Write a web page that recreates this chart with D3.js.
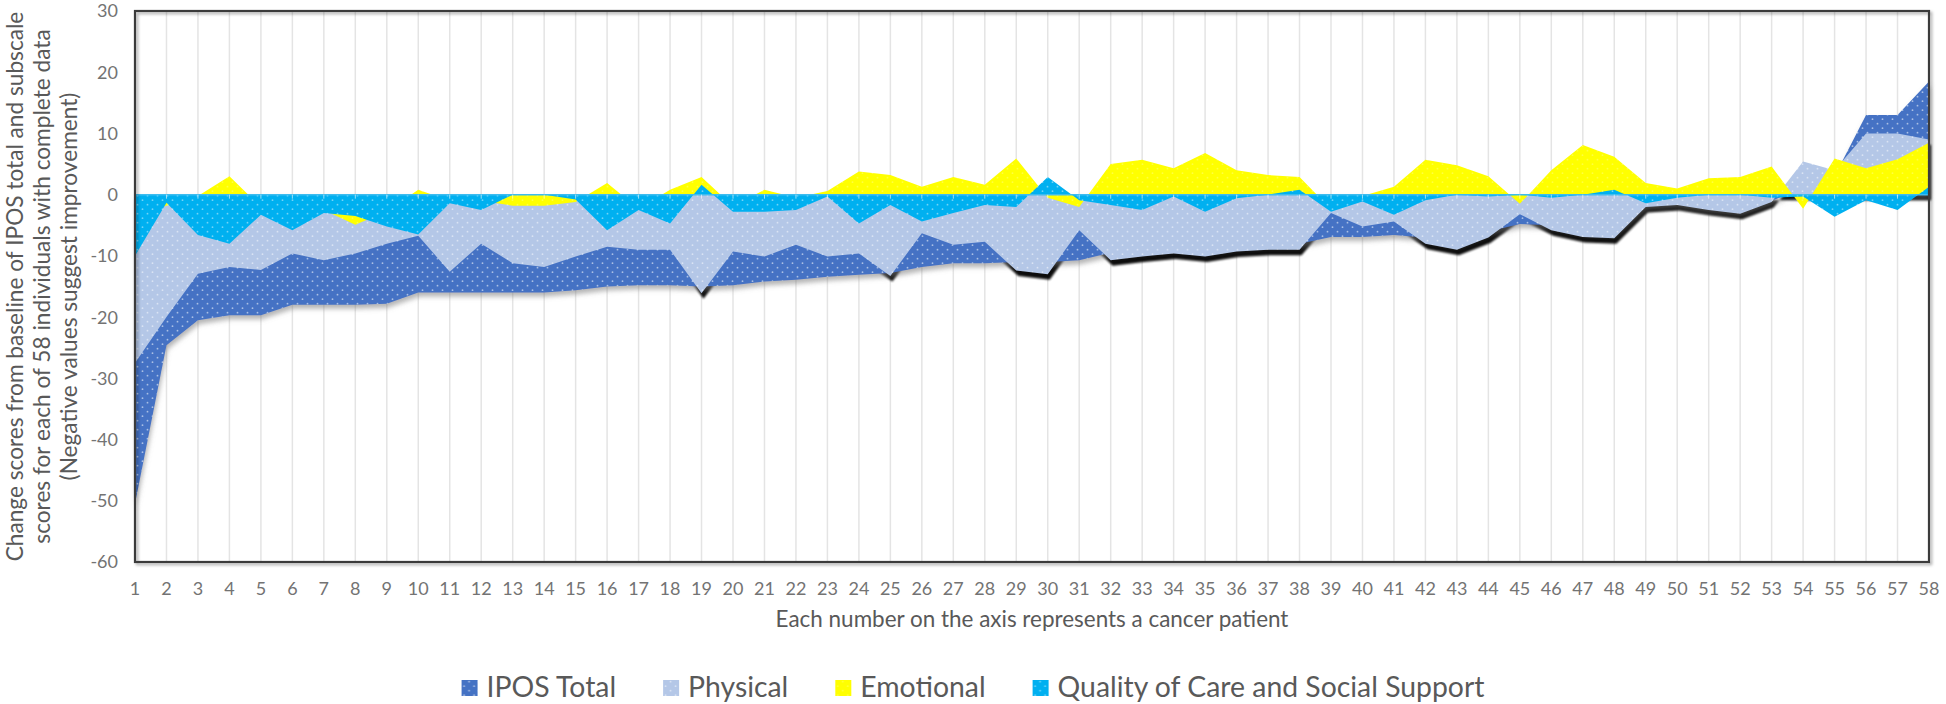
<!DOCTYPE html>
<html><head><meta charset="utf-8">
<script src="https://cdn.jsdelivr.net/npm/d3@7"></script>
<style>
body{margin:0;background:#fff;}
svg{display:block;font-family:Lato,"Open Sans",sans-serif;}
</style>
</head><body>
<svg id="chart" width="1946" height="704"></svg>
<script>
// ---------- DATA ----------
const patients = [1,2,3,4,5,6,7,8,9,10,11,12,13,14,15,16,17,18,19,20,21,22,23,24,25,26,27,28,29,30,
  31,32,33,34,35,36,37,38,39,40,41,42,43,44,45,46,47,48,49,50,51,52,53,54,55,56,57,58];
const iposTotal = [-50.5,-24.6,-20.5,-19.7,-19.7,-18,-18,-18,-17.8,-16,
  -16,-16,-16,-16,-15.6,-15,-14.8,-14.8,-15,-14.8,
  -14.2,-13.9,-13.4,-13.1,-12.8,-11.8,-11.2,-11.2,-11,-11,
  -10.7,-9.5,-9,-8.5,-9,-8.3,-8,-8,-6.9,-6.9,
  -6.6,-7,-8,-6,-4.8,-5,-6,-6.3,-1.8,-1.5,
  -2.3,-2.8,-1,1,3,13,13,18.5];
const physical = [-27.5,-20,-12.9,-11.8,-12.3,-9.6,-10.7,-9.6,-8,-6.7,
  -12.6,-8,-11.2,-11.8,-10.1,-8.5,-9,-9,-16.1,-9.3,
  -10.1,-8.2,-10.1,-9.6,-13.3,-6.3,-8.2,-7.7,-12.4,-13,
  -5.8,-10.7,-10.1,-9.6,-10.1,-9.3,-9,-9,-3,-5.2,
  -4.4,-8,-9,-7,-3.2,-5.8,-6.9,-7.1,-2,-1.7,
  -2.5,-3.1,-1.2,5.4,4,10,10,9];
const emotional = [-3,-1.8,-0.2,3,-2,-2,-2.5,-4.9,-2.7,0.8,
  -1,-1,-1.8,-1.8,-1.2,1.9,-2.3,0.8,2.9,-1.9,
  0.8,-0.5,0.6,3.8,3.2,1.3,2.9,1.6,5.9,-0.5,
  -2,5,5.7,4.3,6.8,4,3.2,2.9,-2.4,-0.2,
  1.3,5.7,4.8,3,-1.5,4,8.1,6.2,1.9,1,
  2.7,2.9,4.6,-2.3,5.9,4.3,5.8,8.5];
const qualityCare = [-10,-1.3,-6.6,-8,-3.3,-5.8,-3,-3.5,-5.2,-6.5,
  -1.4,-2.5,0,0,-0.8,-5.8,-2.5,-4.7,1.6,-2.8,
  -2.8,-2.5,-0.3,-4.7,-1.7,-4.4,-3,-1.7,-2,2.9,
  -0.9,-1.7,-2.5,-0.3,-2.8,-0.6,0,0.8,-2.8,-1.1,
  -3.3,-0.9,0,-0.3,0,-0.5,0,0.8,-1.4,-0.5,
  0,0,-0.5,-0.3,-3.6,-0.9,-2.5,1.3];
const yTicks = [30,20,10,0,-10,-20,-30,-40,-50,-60];
const seriesNames = ["IPOS Total","Physical","Emotional","Quality of Care and Social Support"];
const seriesColors = ["#4472C4","#B4C7E7","#FFFF00","#00B0F0"];
const yTitleLines = ["Change scores from baseline of IPOS total and subscale",
  "scores for each of 58 individuals with complete data",
  "(Negative values suggest improvement)"];
const xTitle = "Each number on the axis represents a cancer patient";

// ---------- LAYOUT ----------
const svg = d3.select("#chart");
const L = 135, R = 1929, T = 11, B = 562;
const x = d3.scalePoint().domain(patients).range([L, R]).padding(0);
const y = d3.scaleLinear().domain([-60, 30]).range([B, T]);

function fitWidth(sel, target) {
  const w = sel.node().getComputedTextLength();
  const fs = +sel.attr("font-size") * target / w;
  sel.attr("font-size", fs);
  return fs;
}

const defs = svg.append("defs");
function makePattern(id, color, op) {
  const p = defs.append("pattern").attr("id", id).attr("patternUnits", "userSpaceOnUse")
    .attr("width", 10).attr("height", 9);
  p.append("rect").attr("width", 10).attr("height", 9).attr("fill", color);
  if (op > 0) {
    p.append("circle").attr("cx", 2.5).attr("cy", 2.2).attr("r", 0.9).attr("fill", "#fff").attr("opacity", op);
    p.append("circle").attr("cx", 7.5).attr("cy", 6.7).attr("r", 0.9).attr("fill", "#fff").attr("opacity", op);
  }
}
makePattern("p0", seriesColors[0], 0.55);
makePattern("p1", seriesColors[1], 0.5);
makePattern("p2", seriesColors[2], 0.25);
makePattern("p3", seriesColors[3], 0.45);
const fills = ["url(#p0)","url(#p1)","url(#p2)","url(#p3)"];

const f1 = defs.append("filter").attr("id","softShadow").attr("x","-5%").attr("y","-5%").attr("width","110%").attr("height","120%");
f1.append("feDropShadow").attr("dx",1).attr("dy",4).attr("stdDeviation",2.5).attr("flood-color","#777").attr("flood-opacity",0.55);
const f2 = defs.append("filter").attr("id","blackBlur").attr("x","-5%").attr("y","-5%").attr("width","110%").attr("height","120%");
f2.append("feGaussianBlur").attr("stdDeviation",0.9);
const f3 = defs.append("filter").attr("id","boxShadow").attr("x","-5%").attr("y","-5%").attr("width","110%").attr("height","110%");
f3.append("feDropShadow").attr("dx",2).attr("dy",2).attr("stdDeviation",1.5).attr("flood-color","#000").attr("flood-opacity",0.35);

// plot background & gridlines
svg.append("rect").attr("x", L).attr("y", T).attr("width", R - L).attr("height", B - T).attr("fill", "#fff");
svg.append("g").selectAll("line").data(patients).join("line")
  .attr("x1", d => x(d)).attr("x2", d => x(d)).attr("y1", T).attr("y2", B)
  .attr("stroke", "#e4e4e4").attr("stroke-width", 1.5);

const area = vals => d3.area()
  .x((d, i) => x(patients[i])).y0(y(0)).y1(d => y(d))(vals);

// physical shadow (black), behind everything
svg.append("path").attr("d", area(physical)).attr("fill", "#000").attr("opacity", 0.95)
  .attr("transform", "translate(2,5.5)").attr("filter", "url(#blackBlur)");
// series areas
svg.append("path").attr("d", area(iposTotal)).attr("fill", fills[0]).attr("filter", "url(#softShadow)");
svg.append("path").attr("d", area(physical)).attr("fill", fills[1]);
svg.append("path").attr("d", area(emotional)).attr("fill", fills[2]);
svg.append("path").attr("d", area(qualityCare)).attr("fill", fills[3]);

// zero line and small ticks
svg.append("line").attr("x1", L).attr("x2", R).attr("y1", y(0)).attr("y2", y(0))
  .attr("stroke", "#3cbcf0").attr("stroke-width", 1.5);
svg.append("g").selectAll("line").data(patients).join("line")
  .attr("x1", d => x(d)).attr("x2", d => x(d)).attr("y1", y(0)).attr("y2", y(0) + 4)
  .attr("stroke", "#ffffff").attr("stroke-opacity", 0.6).attr("stroke-width", 1);

// plot border
svg.append("rect").attr("x", L).attr("y", T).attr("width", R - L).attr("height", B - T)
  .attr("fill", "none").attr("stroke", "#3a3a3a").attr("stroke-width", 2.2).attr("filter", "url(#boxShadow)");

// y tick labels
svg.append("g").selectAll("text").data(yTicks).join("text")
  .attr("x", 118).attr("y", d => y(d)).attr("dy", "0.36em").attr("text-anchor", "end")
  .attr("font-size", 18).attr("fill", "#737373").text(d => d);
// x tick labels
svg.append("g").selectAll("text").data(patients).join("text")
  .attr("x", d => x(d)).attr("y", 595).attr("text-anchor", "middle")
  .attr("font-size", 18).attr("fill", "#737373").text(d => d);

// axis titles
const xt = svg.append("text").attr("x", (L + R) / 2).attr("y", 627).attr("text-anchor", "middle")
  .attr("font-size", 20).attr("fill", "#595959").text(xTitle);
fitWidth(xt, 513);
const yt = svg.append("g");
let yfs = 21;
yTitleLines.forEach((t, i) => {
  const tx = yt.append("text").attr("transform", `translate(${23 + i * 27},${(T + B) / 2}) rotate(-90)`)
    .attr("text-anchor", "middle").attr("font-size", yfs).attr("fill", "#595959").text(t);
  if (i === 0) yfs = fitWidth(tx, 550);
});

// legend
const lg = svg.append("g");
const probe = svg.append("text").attr("font-size", 26).text(seriesNames[3]);
const lfs = fitWidth(probe, 427);
probe.remove();
let cx = 0;
seriesNames.forEach((n, i) => {
  const g = lg.append("g");
  g.append("rect").attr("x", 0).attr("y", 680).attr("width", 16).attr("height", 16).attr("fill", fills[i]);
  const t = g.append("text").attr("x", 25).attr("y", 697).attr("font-size", lfs).attr("fill", "#595959").text(n);
  const w = 25 + t.node().getComputedTextLength();
  g.attr("transform", `translate(${cx},0)`);
  cx += w + 47;
});
const totalW = cx - 47;
lg.attr("transform", `translate(${973 - totalW / 2},0)`);
</script>
</body></html>
